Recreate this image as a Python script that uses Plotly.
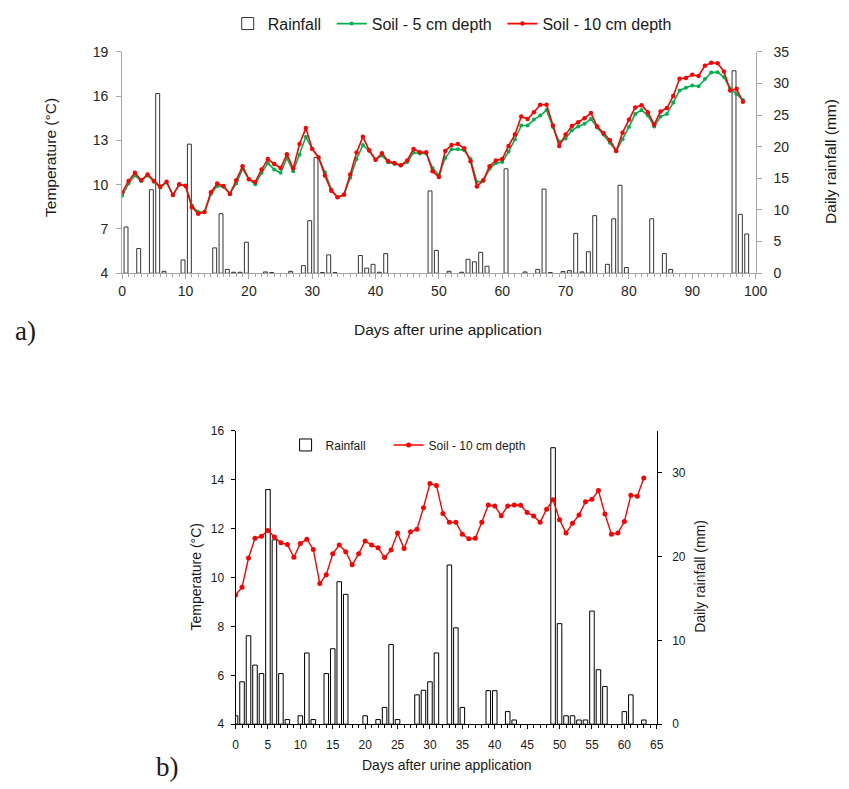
import plotly.graph_objects as go

# ---------------- data: panel a ----------------
days_a = list(range(99))
soil5_a = [9.25, 10.07, 10.62, 10.25, 10.62, 10.20, 9.80, 10.15, 9.30, 10.00,
           9.95, 8.58, 8.14, 8.15, 9.36, 9.91, 9.85, 9.40, 10.07, 11.07,
           10.36, 10.02, 10.80, 11.46, 11.02, 10.80, 11.80, 10.91, 12.02, 13.24,
           12.42, 11.84, 10.84, 9.69, 9.14, 9.32, 10.47, 11.73, 12.68, 12.28,
           11.69, 11.97, 11.51, 11.40, 11.31, 11.53, 12.17, 12.11, 12.11, 11.13,
           10.64, 11.80, 12.39, 12.39, 12.33, 11.73, 10.18, 10.25, 11.07, 11.46,
           11.53, 12.24, 13.06, 14.01, 14.01, 14.41, 14.68, 15.05, 13.90, 12.90,
           13.12, 13.68, 13.94, 14.12, 14.45, 13.87, 13.39, 12.84, 12.28, 13.08,
           13.90, 14.79, 15.05, 14.68, 13.94, 14.61, 14.79, 15.56, 16.38, 16.56,
           16.71, 16.67, 17.16, 17.60, 17.62, 17.29, 16.51, 16.12, 15.74]
soil10_a = [9.47, 10.25, 10.80, 10.29, 10.69, 10.25, 9.85, 10.20, 9.29, 10.02,
            9.91, 8.47, 8.03, 8.14, 9.49, 10.07, 9.91, 9.36, 10.29, 11.24,
            10.36, 10.18, 11.02, 11.73, 11.40, 11.13, 12.06, 11.09, 12.75, 13.83,
            12.42, 11.84, 10.62, 9.58, 9.14, 9.32, 10.69, 12.17, 13.24, 12.33,
            11.69, 12.13, 11.58, 11.46, 11.31, 11.64, 12.42, 12.19, 12.19, 10.91,
            10.52, 12.28, 12.68, 12.75, 12.46, 11.58, 9.87, 10.29, 11.24, 11.64,
            11.73, 12.62, 13.39, 14.61, 14.45, 14.90, 15.41, 15.41, 14.01, 12.62,
            13.39, 13.97, 14.23, 14.50, 14.85, 13.94, 13.50, 13.01, 12.28, 13.52,
            14.39, 15.23, 15.38, 14.90, 14.06, 14.96, 15.19, 16.00, 17.18, 17.22,
            17.44, 17.36, 18.06, 18.26, 18.22, 17.67, 16.38, 16.49, 15.61]
rain_a_day = [0, 2, 4, 5, 6, 9, 10, 14, 15, 16, 17, 18, 19, 22, 23, 26, 28, 29, 30, 31,
              32, 33, 37, 38, 39, 40, 41, 48, 49, 51, 53, 54, 55, 56, 57, 60, 63, 65, 66, 67,
              69, 70, 71, 72, 73, 74, 76, 77, 78, 79, 83, 85, 86, 96, 97, 98]
rain_a_mm = [7.3, 3.9, 13.2, 28.4, 0.3, 2.1, 20.4, 4.0, 9.4, 0.6, 0.15, 0.15, 4.9, 0.2, 0.1,
             0.3, 1.2, 8.3, 18.3, 0.1, 2.9, 0.1, 2.8, 0.8, 1.4, 0.15, 3.1, 13.0, 3.6, 0.3,
             0.15, 2.2, 1.8, 3.3, 1.1, 16.5, 0.2, 0.6, 13.3, 0.1, 0.26, 0.4, 6.3, 0.2, 3.4,
             9.1, 1.4, 8.6, 13.9, 0.9, 8.6, 3.1, 0.6, 32.0, 9.3, 6.2]

# ---------------- data: panel b ----------------
days_b = list(range(64))
soil10_b = [9.29, 9.60, 10.80, 11.61, 11.69, 11.93, 11.66, 11.42, 11.35, 10.83,
            11.39, 11.57, 11.15, 9.76, 10.12, 10.97, 11.33, 11.06, 10.52, 10.97,
            11.50, 11.33, 11.22, 10.82, 11.13, 11.82, 11.19, 11.87, 11.98, 12.86,
            13.85, 13.77, 12.62, 12.26, 12.26, 11.77, 11.59, 11.61, 12.26, 12.97,
            12.93, 12.53, 12.93, 12.97, 12.96, 12.66, 12.52, 12.26, 12.80, 13.18,
            12.37, 11.82, 12.22, 12.56, 13.10, 13.20, 13.56, 12.60, 11.77, 11.82,
            12.29, 13.37, 13.33, 14.07]
rain_b_day = [0, 1, 2, 3, 4, 5, 6, 7, 8, 10, 11, 12, 14, 15, 16, 17, 20, 22, 23, 24, 25,
              28, 29, 30, 31, 33, 34, 35, 39, 40, 42, 43, 49, 50, 51, 52, 53, 54, 55, 56,
              57, 60, 61, 63]
rain_b_mm = [1.0, 5.06, 10.55, 7.05, 6.04, 28.0, 22.0, 6.04, 0.55, 1.0, 8.5, 0.55, 6.04,
             9.0, 17.0, 15.5, 1.0, 0.55, 2.0, 9.5, 0.55, 3.5, 4.05, 5.06, 8.5, 19.0, 11.5,
             2.0, 4.0, 4.0, 1.5, 0.5, 33.0, 12.0, 1.0, 1.0, 0.5, 0.5, 13.5, 6.5, 4.5, 1.5,
             3.5, 0.5]

a_ticks_temp = [4, 7, 10, 13, 16, 19]

W, H = 849, 789
def px(x):
    return x / W
def py(y):
    return 1 - y / H

FONT = "Liberation Sans, Arial, sans-serif"
SERIF = "Liberation Serif, Times New Roman, serif"
GREEN = "#00b050"
RED = "#ff0000"
GRAY = "#a6a6a6"
BAR_OFFSET_A = 0.6

fig = go.Figure()

# panel a
fig.add_trace(go.Bar(
    x=[d + BAR_OFFSET_A for d in rain_a_day], y=rain_a_mm, width=0.62,
    marker=dict(color="white", line=dict(color="#333333", width=1)),
    name="Rainfall", xaxis="x", yaxis="y", legend="legend"))
fig.add_trace(go.Scatter(
    x=days_a, y=soil5_a, mode="lines+markers", name="Soil - 5 cm depth",
    line=dict(color=GREEN, width=1.6), marker=dict(color=GREEN, size=4),
    xaxis="x", yaxis="y2", legend="legend2"))
fig.add_trace(go.Scatter(
    x=days_a, y=soil10_a, mode="lines+markers", name="Soil - 10 cm depth",
    line=dict(color=RED, width=1.6), marker=dict(color=RED, size=4.5),
    xaxis="x", yaxis="y2", legend="legend3"))

# panel b
fig.add_trace(go.Bar(
    x=rain_b_day, y=rain_b_mm, width=0.7,
    marker=dict(color="white", line=dict(color="black", width=1)),
    name="Rainfall", xaxis="x2", yaxis="y3", legend="legend4"))
fig.add_trace(go.Scatter(
    x=days_b, y=soil10_b, mode="lines+markers", name="Soil - 10 cm depth",
    line=dict(color=RED, width=1.4), marker=dict(color=RED, size=5),
    xaxis="x2", yaxis="y4", legend="legend5"))

tick_a = dict(family=FONT, size=14, color="#262626")
tick_b = dict(family=FONT, size=12, color="#1a1a1a")


def leg(x_text, y, size):
    # x_text: pixel where the legend label text starts
    return dict(orientation="h", x=px(x_text - 39), xanchor="left", y=py(y), yanchor="middle",
                font=dict(family=FONT, size=size, color="#1a1a1a"),
                bgcolor="rgba(0,0,0,0)", itemwidth=30)


fig.update_layout(
    width=W, height=H, margin=dict(l=0, r=0, t=0, b=0),
    paper_bgcolor="white", plot_bgcolor="white",
    font=dict(family=FONT, color="#1a1a1a"),
    xaxis=dict(domain=[px(120.5), px(766)], anchor="y", range=[0, 100],
               tick0=0, dtick=10, ticks="outside", ticklen=5, tickcolor=GRAY,
               showline=True, linecolor=GRAY, linewidth=1.2, showgrid=False, zeroline=False,
               minor=dict(dtick=1, ticks="outside", ticklen=3, tickcolor=GRAY),
               tickfont=tick_a),
    yaxis=dict(domain=[py(270.7), py(44.7)], anchor="x", side="right", range=[0, 35],
               tick0=0, dtick=5, ticks="outside", ticklen=5, tickcolor=GRAY,
               showline=True, linecolor=GRAY, linewidth=1.2, showgrid=False, zeroline=False,
               tickfont=tick_a, ticklabelstandoff=9),
    yaxis2=dict(overlaying="y", anchor="x", side="left", range=[4, 19],
                tickvals=a_ticks_temp, ticks="outside", ticklen=5, tickcolor=GRAY,
                showline=True, linecolor=GRAY, linewidth=1.2, showgrid=False, zeroline=False,
                tickfont=tick_a, ticklabelstandoff=5),
    xaxis2=dict(domain=[px(236), px(665.3)], anchor="y3", range=[0, 65],
                tick0=0, dtick=5, ticks="outside", ticklen=4, tickcolor="black",
                showline=True, linecolor="black", linewidth=1, showgrid=False, zeroline=False,
                minor=dict(dtick=1, ticks="outside", ticklen=3, tickcolor="black"),
                tickfont=tick_b, ticklabelstandoff=5),
    yaxis3=dict(domain=[py(731), py(431.7)], anchor="x2", side="right", range=[0, 35],
                tickvals=[0, 10, 20, 30], ticks="outside", ticklen=4, tickcolor="black",
                showline=True, linecolor="black", linewidth=1, showgrid=False, zeroline=False,
                tickfont=tick_b, ticklabelstandoff=8),
    yaxis4=dict(overlaying="y3", anchor="x2", side="left", range=[4, 16],
                tick0=4, dtick=2, ticks="outside", ticklen=4, tickcolor="black",
                showline=True, linecolor="black", linewidth=1, showgrid=False, zeroline=False,
                tickfont=tick_b, ticklabelstandoff=4),
    legend=leg(267, 16, 16),
    legend2=leg(373, 16, 16),
    legend3=leg(547, 16, 16),
    legend4=leg(326, 446, 12),
    legend5=leg(431, 446, 12),
    showlegend=True,
)

def ann(text, x, y, size, angle=0, family=FONT):
    fig.add_annotation(text=text, x=px(x), y=py(y), xref="paper", yref="paper",
                       showarrow=False, textangle=angle, xanchor="center", yanchor="middle",
                       font=dict(family=family, size=size, color="#1a1a1a"))

ann("Temperature (°C)", 48, 153, 15.5, -90)
ann("Daily rainfall (mm)", 843, 157, 15.5, -90)
ann("Days after urine application", 453, 328, 15.5)
ann("a)", 22, 330, 27, family=SERIF)

ann("Temperature (°C)", 196, 580, 14, -90)
ann("Daily rainfall (mm)", 710, 580, 14, -90)
ann("Days after urine application", 451, 773, 14)
ann("b)", 167, 775, 27, family=SERIF)

fig.write_html("out.html")
